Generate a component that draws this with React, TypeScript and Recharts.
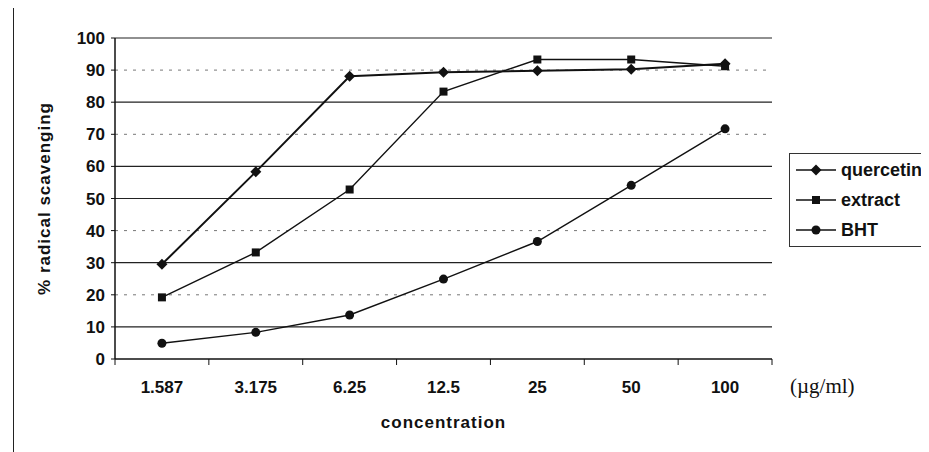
import {
  LineChart,
  Line,
  XAxis,
  YAxis,
  ReferenceLine,
  Label,
} from "recharts";

const concentrations = ["1.587", "3.175", "6.25", "12.5", "25", "50", "100"];
const quercetin = [29.5, 58.3, 88.1, 89.3, 89.8, 90.3, 92.0];
const extract = [19.2, 33.2, 52.8, 83.3, 93.3, 93.3, 91.2];
const bht = [4.9, 8.3, 13.7, 24.9, 36.6, 54.1, 71.7];
const yTicks = [0, 10, 20, 30, 40, 50, 60, 70, 80, 90, 100];
const solidGrid = [10, 30, 50, 60, 80, 100];
const dottedGrid = [20, 40, 70, 90];

const data = concentrations.map((c, i) => ({
  name: c,
  quercetin: quercetin[i],
  extract: extract[i],
  BHT: bht[i],
}));

const font = "Arial, 'Liberation Sans', sans-serif";

const Diamond = ({ cx, cy }: any) => (
  <path
    d={`M${cx},${cy - 5.5} L${cx + 5.5},${cy} L${cx},${cy + 5.5} L${cx - 5.5},${cy} Z`}
    fill="#111"
  />
);
const Square = ({ cx, cy }: any) => (
  <rect x={cx - 4} y={cy - 4} width={8} height={8} fill="#111" />
);
const Dot = ({ cx, cy }: any) => <circle cx={cx} cy={cy} r={4.5} fill="#111" />;

// category labels centred in each band, tick marks on the band edges
const XTick = (props: any) => {
  const { x, y, payload, index, width, visibleTicksCount } = props;
  const band = width / visibleTicksCount;
  return (
    <g>
      <line x1={x - band / 2} x2={x - band / 2} y1={y - 22} y2={y - 16} stroke="#111" />
      {index === visibleTicksCount - 1 && (
        <line x1={x + band / 2} x2={x + band / 2} y1={y - 22} y2={y - 16} stroke="#111" />
      )}
      <text
        x={x}
        y={y}
        dy="0.71em"
        textAnchor="middle"
        fontFamily={font}
        fontWeight="bold"
        fontSize={17}
        fill="#111"
      >
        {payload.value}
      </text>
    </g>
  );
};

const legendItems = [
  { name: "quercetin", marker: "diamond" },
  { name: "extract", marker: "square" },
  { name: "BHT", marker: "circle" },
];

const LegendBox = () => (
  <div
    style={{
      position: "absolute",
      left: 781,
      top: 145,
      border: "1px solid #333",
      width: 138,
      height: 94,
      boxSizing: "border-box",
      paddingTop: 1,
      background: "#fff",
    }}
  >
    {legendItems.map((it) => (
      <div key={it.name} style={{ display: "flex", alignItems: "center", height: 30 }}>
        <svg width={50} height={16}>
          <line x1={6} x2={46} y1={8} y2={8} stroke="#111" strokeWidth={1.6} />
          {it.marker === "diamond" && <Diamond cx={26} cy={8} />}
          {it.marker === "square" && <Square cx={26} cy={8} />}
          {it.marker === "circle" && <Dot cx={26} cy={8} />}
        </svg>
        <span
          style={{
            fontFamily: font,
            fontWeight: "bold",
            fontSize: 18,
            color: "#111",
            marginLeft: 1,
          }}
        >
          {it.name}
        </span>
      </div>
    ))}
  </div>
);

export default function App() {
  return (
    <div style={{ position: "relative", width: 921, height: 444, background: "#fff" }}>
      <div
        style={{
          position: "absolute",
          left: 5,
          top: -1,
          width: 930,
          height: 460,
          borderTop: "1.5px solid #666",
          borderLeft: "1.5px solid #222",
        }}
      />
      <LineChart
        width={921}
        height={444}
        data={data}
        margin={{ top: 30, right: 157, bottom: 63, left: 0 }}
        style={{ position: "absolute", left: 0, top: 0 }}
      >
        {solidGrid.map((v) => (
          <ReferenceLine key={v} y={v} stroke="#222" strokeWidth={1.2} />
        ))}
        {dottedGrid.map((v) => (
          <ReferenceLine key={v} y={v} stroke="#777" strokeDasharray="3 6" />
        ))}
        <XAxis
          dataKey="name"
          scale="band"
          height={30}
          axisLine={{ stroke: "#111", strokeWidth: 1.5 }}
          tickLine={false}
          tickSize={0}
          tick={<XTick />}
          tickMargin={22}
          interval={0}
        >
          <Label
            value="concentration"
            position="center"
            dy={48}
            fontFamily={font}
            fontWeight="bold"
            fontSize={17}
            letterSpacing={1}
            fill="#111"
          />
        </XAxis>
        <YAxis
          width={107}
          domain={[0, 100]}
          ticks={yTicks}
          interval={0}
          axisLine={{ stroke: "#111", strokeWidth: 1.5 }}
          tickLine={{ stroke: "#111" }}
          tickSize={4}
          tickMargin={6}
          tick={{ fontFamily: font, fontWeight: "bold", fontSize: 17, fill: "#111" }}
        >
          <Label
            value="% radical  scavenging"
            angle={-90}
            position="center"
            dx={-18}
            fontFamily={font}
            fontWeight="bold"
            fontSize={17}
            letterSpacing={1}
            fill="#111"
            style={{ whiteSpace: "pre" }}
          />
        </YAxis>
        <YAxis
          yAxisId="right"
          orientation="right"
          width={0}
          domain={[0, 100]}
          tick={false}
          tickLine={false}
          axisLine={{ stroke: "#111", strokeWidth: 1.2 }}
        />
        <Line
          dataKey="quercetin"
          stroke="#111"
          strokeWidth={2}
          dot={<Diamond />}
          activeDot={false}
          isAnimationActive={false}
        />
        <Line
          dataKey="extract"
          stroke="#111"
          strokeWidth={1.4}
          dot={<Square />}
          activeDot={false}
          isAnimationActive={false}
        />
        <Line
          dataKey="BHT"
          stroke="#111"
          strokeWidth={1.4}
          dot={<Dot />}
          activeDot={false}
          isAnimationActive={false}
        />
      </LineChart>
      <LegendBox />
      <div
        style={{
          position: "absolute",
          left: 782,
          top: 366,
          fontFamily: "'Liberation Serif', 'Times New Roman', serif",
          fontSize: 21,
          color: "#111",
        }}
      >
        (µg/ml)
      </div>
    </div>
  );
}
